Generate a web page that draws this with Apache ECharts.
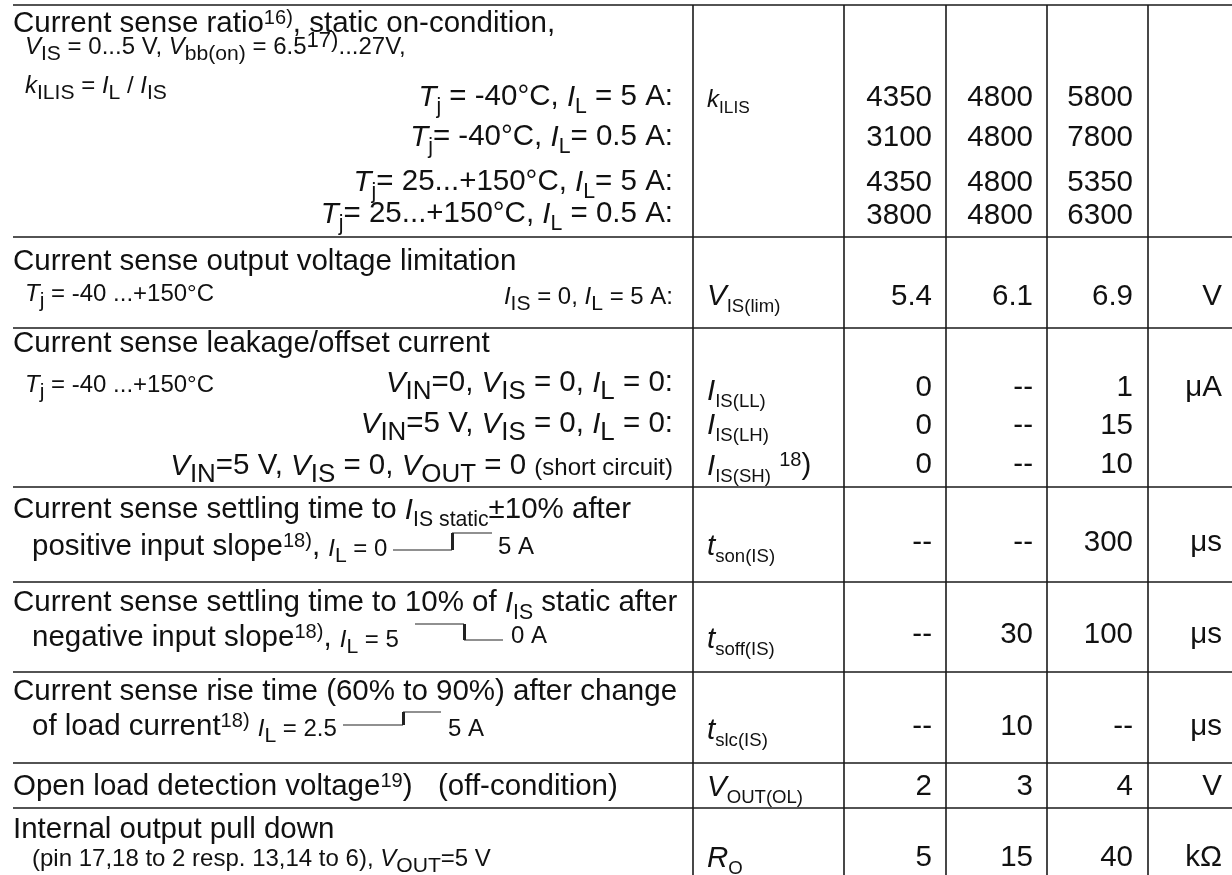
<!DOCTYPE html>
<html><head><meta charset="utf-8">
<script src="https://cdn.jsdelivr.net/npm/echarts@6/dist/echarts.min.js"></script>
<style>html,body{margin:0;padding:0;background:#fff}#c{width:1232px;height:875px}</style>
</head><body><div id="c"></div>
<script>
// ---------------- DATA ----------------
// Parameter / condition text (markup: *x* italic, _{..} subscript, ^{..} superscript, <S> small text)
const paramLines = [
  'Current sense ratio^{16)}, static on-condition,',
  '<S>*V*_b{IS} = 0...5 V, *V*_b{bb(on)} = 6.5^b{17)}...27V,',
  '<S>*k*_b{ILIS} = *I*_b{L} / *I*_b{IS}',
  '*T*_{j} = -40°C, *I*_{L} = 5 A:',
  '*T*_{j}= -40°C, *I*_{L}= 0.5 A:',
  '*T*_{j}= 25...+150°C, *I*_{L}= 5 A:',
  '*T*_{j}= 25...+150°C, *I*_{L} = 0.5 A:',
  'Current sense output voltage limitation',
  '<S>*T*_b{j} = -40 ...+150°C',
  '<S>*I*_b{IS} = 0, *I*_b{L} = 5 A:',
  'Current sense leakage/offset current',
  '<S>*T*_b{j} = -40 ...+150°C',
  '*V*_b{IN}=0, *V*_b{IS} = 0, *I*_b{L} = 0:',
  '*V*_b{IN}=5 V, *V*_b{IS} = 0, *I*_b{L} = 0:',
  '*V*_b{IN}=5 V, *V*_b{IS} = 0, *V*_b{OUT} = 0 <S>(short circuit)',
  'Current sense settling time to *I*_{IS static}±10% after',
  'positive input slope^{18)}, <S>*I*_b{L} = 0',
  '<S>5 A',
  'Current sense settling time to 10% of *I*_{IS} static after',
  'negative input slope^{18)}, <S>*I*_b{L} = 5',
  '<S>0 A',
  'Current sense rise time (60% to 90%) after change',
  'of load current^{18)} <S>*I*_b{L} = 2.5',
  '<S>5 A',
  'Open load detection voltage^{19})',
  '(off-condition)',
  'Internal output pull down',
  '<S>(pin 17,18 to 2 resp. 13,14 to 6), *V*_b{OUT}=5 V'
];
const symbols = ['<S>*k*_{ILIS}', '*V*_s{IS(lim)}', '*I*_s{IS(LL)}', '*I*_s{IS(LH)}', '*I*_s{IS(SH)} ^{18})',
  '*t*_s{son(IS)}', '*t*_s{soff(IS)}', '*t*_s{slc(IS)}', '*V*_s{OUT(OL)}', '*R*_s{O}'];
const minValues = ['4350','3100','4350','3800','5.4','0','0','0','--','--','--','2','5'];
const typValues = ['4800','4800','4800','4800','6.1','--','--','--','--','30','10','3','15'];
const maxValues = ['5800','7800','5350','6300','6.9','1','15','10','300','100','--','4','40'];
const units     = ['','','','','V','μA','','','μs','μs','μs','V','kΩ'];

// ---------------- LAYOUT (positions in the table's own units) ----------------
const paramLayout = [
  [13,24,'l'],[25,47,'l'],[25,86,'l'],[673,97,'r'],[673,137,'r'],[673,182,'r'],[673,214,'r'],
  [13,262,'l'],[25,294,'l'],[673,297,'r'],
  [13,344,'l'],[25,385,'l'],[673,383,'r'],[673,424,'r'],[673,466,'r'],
  [13,510,'l'],[32,547,'l'],[498,547,'l'],
  [13,603,'l'],[32,638,'l'],[511,636,'l'],
  [13,692,'l'],[32,727,'l'],[448,729,'l'],
  [13,787,'l'],[438,787,'l'],
  [13,830,'l'],[32,859,'l']
];
const symbolY = [100,296,391,425,466,546,639,730,787,858];
const symbolX = 707;
const valueY = [98,138,183,216,297,388,426,465,543,635,727,787,858];
const valueRight = [932,1033,1133,1222];
const hRules = [5,237,328,487,582,672,763,808];
const vRules = [693,844,946,1047,1148];
const tableLeft = 13, tableRight = 1232, tableTop = 5, tableBottom = 875;
// step-waveform glyphs: [x1,y1,x2,y2,width]
const glyphSegs = [
  [393,550,452,550,1.2],[452.5,550,452.5,533,3],[452,533,492,533,1.2],
  [415,624,464,624,1.2],[464.5,624,464.5,640,3],[464,640,503,640,1.2],
  [343,725,403,725,1.2],[403.5,725,403.5,712,3],[403,712,441,712,1.2]
];

// ---------------- RENDERING ----------------
const FONT = '"Liberation Sans", Arial, Helvetica, sans-serif';
const BASE = {L: 29.5, S: 24};
const mctx = document.createElement('canvas').getContext('2d');
function measure(t, size, italic) {
  mctx.font = (italic ? 'italic ' : 'normal ') + 'normal ' + size + 'px ' + FONT;
  return mctx.measureText(t).width;
}
function parseRuns(markup) {
  const re = /(<[SL]>|\*[^*]+\*|[_^][bs]?\{[^}]*\}|[^<*_^]+)/g;
  let base = BASE.L, first = null; const runs = []; let m;
  while ((m = re.exec(markup))) {
    const tok = m[1];
    if (tok[0] === '<') { base = tok[1] === 'S' ? BASE.S : BASE.L; continue; }
    if (first === null) first = base;
    if (tok[0] === '*') runs.push({t: tok.slice(1, -1), size: base, italic: true, dy: 0});
    else if (tok[0] === '_' || tok[0] === '^') {
      const mod = tok[1] === '{' ? '' : tok[1];
      const t = tok.slice(tok.indexOf('{') + 1, -1);
      const ratio = tok[0] === '_' ? (mod === 'b' ? 0.88 : mod === 's' ? 0.63 : 0.72)
                                   : (mod === 'b' ? 0.92 : 0.68);
      const dy = tok[0] === '_' ? base * 0.24 : -base * 0.3;
      runs.push({t, size: base * ratio, italic: false, dy});
    } else runs.push({t: tok, size: base, italic: false, dy: 0});
  }
  return {runs, base: first || base};
}

const textItems = [];
paramLines.forEach((s, i) => textItems.push({m: s, x: paramLayout[i][0], y: paramLayout[i][1], align: paramLayout[i][2]}));
symbols.forEach((s, i) => textItems.push({m: s, x: symbolX, y: symbolY[i], align: 'l'}));
[minValues, typValues, maxValues, units].forEach((col, c) => col.forEach((v, i) => {
  if (v) textItems.push({m: v, x: valueRight[c], y: valueY[i], align: 'r'});
}));
textItems.forEach(t => t.parsed = parseRuns(t.m));

const ruleSegs = [];
hRules.forEach(y => ruleSegs.push([tableLeft, y, tableRight, y]));
vRules.forEach(x => ruleSegs.push([x, tableTop, x, tableBottom]));

const chart = echarts.init(document.getElementById('c'), null, {renderer: 'canvas'});
chart.setOption({
  animation: false,
  backgroundColor: '#ffffff',
  grid: {left: 0, right: 0, top: 0, bottom: 0},
  xAxis: {type: 'value', min: 0, max: 1232, show: false},
  yAxis: {type: 'value', min: 0, max: 875, inverse: true, show: false},
  series: [
    {
      type: 'custom', silent: true, clip: false,
      data: ruleSegs, encode: {x: [0, 2], y: [1, 3]},
      renderItem: (params, api) => {
        const a = api.coord([api.value(0), api.value(1)]);
        const b = api.coord([api.value(2), api.value(3)]);
        return {type: 'line', shape: {x1: a[0], y1: a[1], x2: b[0], y2: b[1]},
                style: {stroke: '#1a1a1a', lineWidth: 1.6}};
      }
    },
    {
      type: 'custom', silent: true, clip: false,
      data: glyphSegs, encode: {x: [0, 2], y: [1, 3]},
      renderItem: (params, api) => {
        const a = api.coord([api.value(0), api.value(1)]);
        const b = api.coord([api.value(2), api.value(3)]);
        return {type: 'line', shape: {x1: a[0], y1: a[1], x2: b[0], y2: b[1]},
                style: {stroke: '#222', lineWidth: api.value(4)}};
      }
    },
    {
      type: 'custom', silent: true, clip: false,
      data: textItems.map(t => [t.x, t.y]),
      renderItem: (params, api) => {
        const it = textItems[params.dataIndex];
        const p = api.coord([api.value(0), api.value(1)]);
        const {runs, base} = it.parsed;
        const widths = runs.map(r => measure(r.t, r.size, r.italic));
        const total = widths.reduce((a, b) => a + b, 0);
        let x = it.align === 'r' ? p[0] - total : p[0];
        const baseline = p[1] + 0.358 * base;
        const children = runs.map((r, i) => {
          const el = {type: 'text', style: {
            text: r.t, x: x, y: baseline + r.dy - 0.3465 * r.size,
            fill: '#111', fontSize: r.size, fontFamily: FONT,
            fontStyle: r.italic ? 'italic' : 'normal', fontWeight: 'normal',
            align: 'left', verticalAlign: 'middle'}};
          x += widths[i];
          return el;
        });
        return {type: 'group', children};
      }
    }
  ]
});
</script>
</body></html>
